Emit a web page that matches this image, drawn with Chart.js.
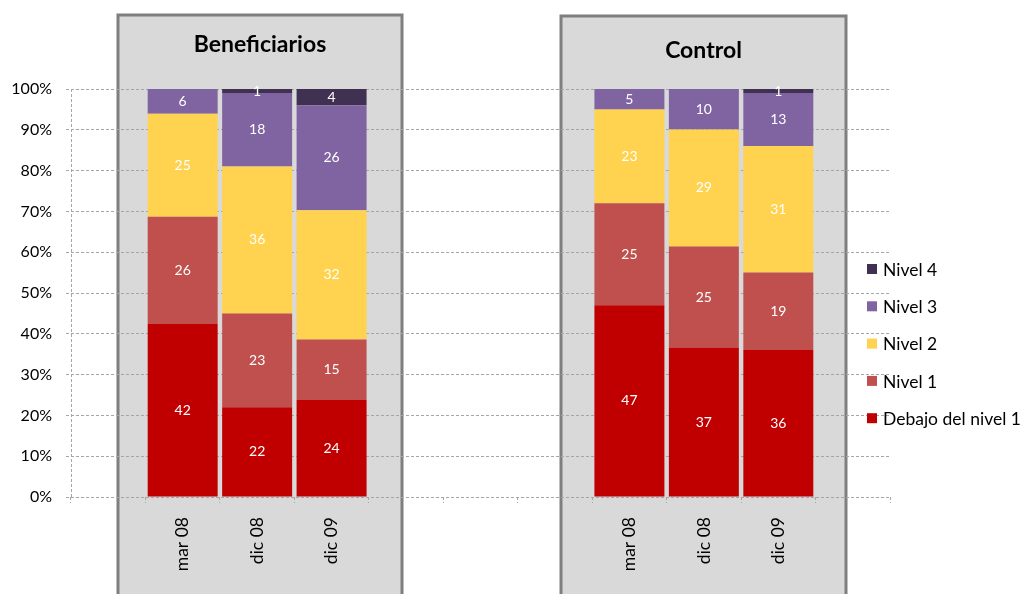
<!DOCTYPE html>
<html>
<head>
<meta charset="utf-8">
<script src="https://cdn.jsdelivr.net/npm/chart.js@4.4.1/dist/chart.umd.min.js"></script>
<style>
  html, body { margin: 0; padding: 0; background: #ffffff; }
  #wrap { width: 1024px; height: 594px; position: relative; }
</style>
</head>
<body>
<div id="wrap"><canvas id="c" width="1024" height="594"></canvas></div>
<script>
// ---- data ----
const categories = ['', 'mar 08', 'dic 08', 'dic 09', '', '', '', 'mar 08', 'dic 08', 'dic 09', ''];
const debajoNivel1 = [null, 42, 22, 24, null, null, null, 47, 37, 36, null];
const nivel1       = [null, 26, 23, 15, null, null, null, 25, 25, 19, null];
const nivel2       = [null, 25, 36, 32, null, null, null, 23, 29, 31, null];
const nivel3       = [null,  6, 18, 26, null, null, null,  5, 10, 13, null];
const nivel4       = [null,  0,  1,  4, null, null, null,  0,  0,  1, null];
const seriesNames  = ['Debajo del nivel 1', 'Nivel 1', 'Nivel 2', 'Nivel 3', 'Nivel 4'];
const panelTitles  = ['Beneficiarios', 'Control'];
const yTickValues  = [0, 10, 20, 30, 40, 50, 60, 70, 80, 90, 100];

// ---- styles ----
const colors = ['#C00000', '#C0504D', '#FFD24F', '#8064A2', '#403152'];
const FONT = 'Lato, "Open Sans", "DejaVu Sans", sans-serif';
const panelBoxes = [
  { left: 118, right: 402, top: 15, titleY: 45 },
  { left: 561, right: 846, top: 16, titleY: 51 }
];

const rawSeries = [debajoNivel1, nivel1, nivel2, nivel3, nivel4];
// 100% stacked: each column normalised to its total
const totals = categories.map((_, i) => rawSeries.reduce((s, arr) => s + (arr[i] || 0), 0));
const datasets = rawSeries.map((arr, k) => ({
  label: seriesNames[k],
  raw: arr,
  data: arr.map((v, i) => (v === null || totals[i] === 0) ? null : v / totals[i] * 100),
  backgroundColor: colors[k],
  borderWidth: 0,
  barPercentage: 0.94,
  categoryPercentage: 1.0,
  stack: 's'
}));

const panelPlugin = {
  id: 'panels',
  beforeDraw(chart) {
    const ctx = chart.ctx;
    ctx.save();
    panelBoxes.forEach((p, k) => {
      ctx.fillStyle = '#d9d9d9';
      ctx.fillRect(p.left, p.top, p.right - p.left, 700);
      ctx.strokeStyle = '#7f7f7f';
      ctx.lineWidth = 3;
      ctx.strokeRect(p.left, p.top, p.right - p.left, 700);
      ctx.fillStyle = '#000000';
      ctx.font = 'bold 23px ' + FONT;
      ctx.textAlign = 'center';
      ctx.textBaseline = 'middle';
      ctx.fillText(panelTitles[k], (p.left + p.right) / 2, p.titleY);
    });
    ctx.restore();
  },
  beforeDatasetsDraw(chart) {
    const ctx = chart.ctx, a = chart.chartArea;
    ctx.save();
    ctx.strokeStyle = '#a6a6a6';
    ctx.lineWidth = 1;
    ctx.setLineDash([3, 2]);
    ctx.beginPath();
    ctx.moveTo(Math.round(a.left) + 0.5, a.top);
    ctx.lineTo(Math.round(a.left) + 0.5, a.bottom);
    ctx.stroke();
    ctx.restore();
  }
};

const labelPlugin = {
  id: 'segLabels',
  afterDatasetsDraw(chart) {
    const ctx = chart.ctx;
    ctx.save();
    ctx.font = '14px ' + FONT;
    ctx.fillStyle = '#ffffff';
    ctx.textAlign = 'center';
    ctx.textBaseline = 'middle';
    chart.data.datasets.forEach((ds, di) => {
      const meta = chart.getDatasetMeta(di);
      meta.data.forEach((el, i) => {
        const v = ds.raw[i];
        if (v === null || v === 0) return;
        const p = el.getProps(['x', 'y', 'base'], true);
        ctx.fillText(String(v), p.x, (p.y + p.base) / 2);
      });
    });
    ctx.restore();
  }
};

const legendPlugin = {
  id: 'customLegend',
  afterDraw(chart) {
    const ctx = chart.ctx;
    ctx.save();
    ctx.font = '17.5px ' + FONT;
    ctx.textBaseline = 'middle';
    ctx.textAlign = 'left';
    const n = chart.data.datasets.length;
    for (let r = 0; r < n; r++) {
      const di = n - 1 - r;
      const ds = chart.data.datasets[di];
      const y = 269 + r * 37.3;
      ctx.fillStyle = ds.backgroundColor;
      ctx.fillRect(867, y - 5, 10, 10);
      ctx.fillStyle = '#000000';
      ctx.fillText(ds.label, 883, y + 1);
    }
    ctx.restore();
  }
};

new Chart(document.getElementById('c'), {
  type: 'bar',
  data: { labels: categories, datasets: datasets },
  plugins: [panelPlugin, labelPlugin, legendPlugin],
  options: {
    responsive: false,
    devicePixelRatio: 1,
    animation: false,
    layout: { padding: { left: 0, top: 89, right: 134, bottom: 0 } },
    plugins: { legend: { display: false }, tooltip: { enabled: false }, title: { display: false } },
    scales: {
      x: {
        stacked: true,
        grid: {
          offset: true,
          drawOnChartArea: false,
          drawTicks: true,
          tickLength: 6,
          tickColor: '#a6a6a6',
          tickBorderDash: [3, 2]
        },
        border: { display: false },
        ticks: {
          color: '#000000',
          font: { family: FONT, size: 17.5 },
          minRotation: 90,
          maxRotation: 90,
          autoSkip: false,
          padding: 14
        },
        afterFit(scale) { scale.height = 97; }
      },
      y: {
        stacked: true,
        min: 0,
        max: 100,
        afterBuildTicks(scale) { scale.ticks = yTickValues.map(v => ({ value: v })); },
        grid: {
          color: '#a6a6a6',
          lineWidth: 1,
          drawTicks: true,
          tickLength: 5,
          tickColor: '#a6a6a6',
          tickBorderDash: [3, 2]
        },
        border: { display: false, dash: [3, 2] },
        ticks: {
          color: '#000000',
          font: { family: FONT, size: 16 },
          padding: 14,
          callback: v => v + '%'
        },
        afterFit(scale) { scale.width = 71; }
      }
    }
  }
});
</script>
</body>
</html>
